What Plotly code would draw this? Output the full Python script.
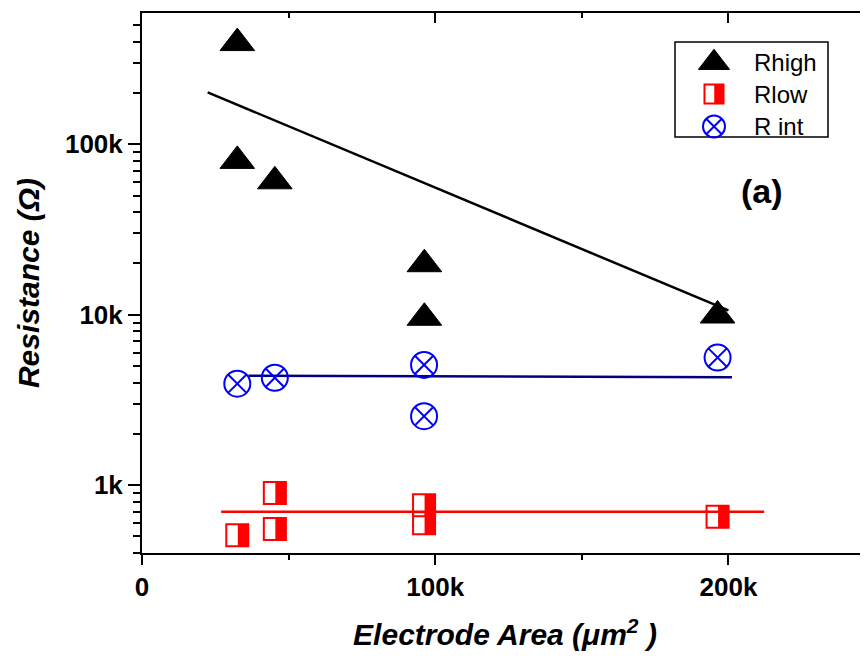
import plotly.graph_objects as go

# ---------------- data ----------------
area_high = [32.5e3, 32.5e3, 45.3e3, 96.3e3, 96.3e3, 196.3e3]
r_high = [393e3, 80e3, 60.7e3, 19.8e3, 9.6e3, 9.9e3]

area_low = [32.5e3, 45.3e3, 45.3e3, 96.2e3, 96.2e3, 196.3e3]
r_low = [508, 898, 552, 761, 598, 652]

area_int = [32.5e3, 45.3e3, 96.2e3, 96.2e3, 196.3e3]
r_int = [3.94e3, 4.27e3, 5.08e3, 2.54e3, 5.61e3]

fit_high_x = [22.4e3, 200e3]
fit_high_y = [202e3, 10.6e3]
fit_int_x = [36.3e3, 201.2e3]
fit_int_y = [4.38e3, 4.30e3]
fit_low_x = [27.0e3, 212.2e3]
fit_low_y = [697, 697]

x_tickvals = [0, 100e3, 200e3]
x_ticktext = ["0", "100k", "200k"]
x_minor = [50e3, 150e3]
y_tickvals = [1e3, 1e4, 1e5]
y_ticktext = ["1k", "10k", "100k"]
y_minor = [m * 10 ** e for e in (2, 3, 4, 5) for m in range(2, 10) if 399 < m * 10 ** e < 10 ** 5.77]

legend_names = ["Rhigh", "Rlow", "R int"]

# ---------------- layout constants ----------------
OFF = 8                       # page body margin
W, H = 868 - OFF, 662 - OFF
ML, MR, MT, MB = 142 - OFF, 0, 13 - OFF, 109
PW, PH = W - ML - MR, H - MT - MB
X_RANGE = [0, 247.6e3]
Y_RANGE = [2.6018, 5.771]
FONT = "Liberation Sans"

px_per_x = PW / (X_RANGE[1] - X_RANGE[0])


def fx(px):
    return (px - OFF - ML) / PW


def fy(py):
    return 1 - (py - OFF - MT) / PH


RED, BLUE, NAVY = "#FF0000", "#0000FF", "#000080"
SQ = 22          # square marker size
FILL_W = 11      # width of filled half (px)
dx_fill = (FILL_W / 2 + 0.5) / px_per_x

fig = go.Figure()

# fit lines
fig.add_trace(go.Scatter(x=fit_high_x, y=fit_high_y, mode="lines",
                         line=dict(color="black", width=2.5), showlegend=False))
fig.add_trace(go.Scatter(x=fit_int_x, y=fit_int_y, mode="lines",
                         line=dict(color=NAVY, width=2.5), showlegend=False))
fig.add_trace(go.Scatter(x=fit_low_x, y=fit_low_y, mode="lines",
                         line=dict(color=RED, width=2.5), showlegend=False))

# Rhigh
fig.add_trace(go.Scatter(x=area_high, y=r_high, mode="markers", name=legend_names[0],
                         marker=dict(symbol="triangle-up", size=30, color="black",
                                     line=dict(color="black", width=1)),
                         showlegend=False, cliponaxis=False))
# Rlow: open square + filled right half
fig.add_trace(go.Scatter(x=area_low, y=r_low, mode="markers", name=legend_names[1],
                         marker=dict(symbol="square-open", size=SQ, color=RED,
                                     line=dict(color=RED, width=2)),
                         showlegend=False))
fig.add_trace(go.Scatter(x=[a + dx_fill for a in area_low], y=r_low, mode="markers",
                         marker=dict(symbol="line-ns-open", size=SQ / 1.4, color=RED,
                                     line=dict(color=RED, width=FILL_W)),
                         showlegend=False, hoverinfo="skip"))
# R int
fig.add_trace(go.Scatter(x=area_int, y=r_int, mode="markers", name=legend_names[2],
                         marker=dict(symbol="circle-x-open", size=26, color=BLUE,
                                     line=dict(color=BLUE, width=2)),
                         showlegend=False))

# ---------------- custom legend ----------------
LX_SYM, LX_TXT = 714, 752
LY = [62.7, 94, 126.5]
fig.add_shape(type="rect", xref="paper", yref="paper",
              x0=fx(675), x1=fx(828), y0=fy(137), y1=fy(42),
              line=dict(color="black", width=1.5), fillcolor="white", layer="below")
fig.add_trace(go.Scatter(x=[fx(LX_SYM)], y=[fy(LY[0])], xaxis="x3", yaxis="y3", mode="markers",
                         marker=dict(symbol="triangle-up", size=27, color="black",
                                     line=dict(color="black", width=1)),
                         showlegend=False, cliponaxis=False, hoverinfo="skip"))
fig.add_trace(go.Scatter(x=[fx(LX_SYM)], y=[fy(LY[1])], xaxis="x3", yaxis="y3", mode="markers",
                         marker=dict(symbol="square-open", size=19, color=RED,
                                     line=dict(color=RED, width=2)),
                         showlegend=False, cliponaxis=False, hoverinfo="skip"))
fig.add_trace(go.Scatter(x=[fx(LX_SYM + 5)], y=[fy(LY[1])], xaxis="x3", yaxis="y3", mode="markers",
                         marker=dict(symbol="line-ns-open", size=19 / 1.4, color=RED,
                                     line=dict(color=RED, width=9.5)),
                         showlegend=False, cliponaxis=False, hoverinfo="skip"))
fig.add_trace(go.Scatter(x=[fx(LX_SYM)], y=[fy(LY[2])], xaxis="x3", yaxis="y3", mode="markers",
                         marker=dict(symbol="circle-x-open", size=22, color=BLUE,
                                     line=dict(color=BLUE, width=2)),
                         showlegend=False, cliponaxis=False, hoverinfo="skip"))
for name, ly in zip(legend_names, LY):
    fig.add_annotation(text=name, xref="paper", yref="paper", x=fx(LX_TXT), y=fy(ly),
                       xanchor="left", yanchor="middle", showarrow=False,
                       font=dict(family=FONT, size=24, color="black"))

fig.add_annotation(text="(a)", xref="paper", yref="paper", x=fx(762), y=fy(191),
                   xanchor="center", yanchor="middle", showarrow=False,
                   font=dict(family=FONT, size=34, color="black", weight="bold"))

tickfont = dict(family=FONT, size=26, color="black", weight="bold")
titlefont = dict(family=FONT, size=30, color="black", weight="bold", style="italic")

fig.update_layout(
    width=W, height=H,
    margin=dict(l=ML, r=MR, t=MT, b=MB, pad=0),
    paper_bgcolor="white", plot_bgcolor="white",
    showlegend=False,
    xaxis=dict(range=X_RANGE, tickmode="array", tickvals=x_tickvals, ticktext=x_ticktext,
               ticks="outside", ticklen=10, tickwidth=2, tickcolor="black",
               showline=True, linewidth=2, linecolor="black", showgrid=False, zeroline=False,
               tickfont=tickfont,
               minor=dict(tickmode="array", tickvals=x_minor, ticks="outside", ticklen=5,
                          tickwidth=2, tickcolor="black", showgrid=False),
               title=dict(text="Electrode Area (μm<sup>2</sup> )", font=titlefont, standoff=23)),
    yaxis=dict(type="log", range=Y_RANGE, tickmode="array", tickvals=y_tickvals, ticktext=y_ticktext,
               ticks="outside", ticklen=12, tickwidth=2, tickcolor="black",
               showline=True, linewidth=2, linecolor="black", showgrid=False, zeroline=False,
               tickfont=tickfont,
               minor=dict(tickmode="array", tickvals=y_minor, ticks="outside", ticklen=7,
                          tickwidth=1.5, tickcolor="black", showgrid=False),
               title=dict(text="Resistance (Ω)", font=titlefont, standoff=16)),
    xaxis2=dict(overlaying="x", side="top", range=X_RANGE, tickmode="array",
                tickvals=x_tickvals, ticks="inside", ticklen=10, tickwidth=2, tickcolor="black",
                showticklabels=False, showline=True, linewidth=2, linecolor="black",
                showgrid=False, zeroline=False,
                minor=dict(tickmode="array", tickvals=x_minor, ticks="inside", ticklen=5,
                           tickwidth=2, tickcolor="black", showgrid=False)),
    yaxis2=dict(overlaying="y", side="right", type="log", range=Y_RANGE, tickmode="array",
                tickvals=y_tickvals, ticks="inside", ticklen=8, tickwidth=2, tickcolor="black",
                showticklabels=False, showline=False, showgrid=False, zeroline=False),
    xaxis3=dict(overlaying="x", range=[0, 1], visible=False),
    yaxis3=dict(overlaying="y", range=[0, 1], visible=False),
)

# dummy trace so the mirrored axes get drawn
fig.add_trace(go.Scatter(x=[None], y=[None], xaxis="x2", yaxis="y2", showlegend=False, hoverinfo="skip"))

fig.write_html("out.html")
